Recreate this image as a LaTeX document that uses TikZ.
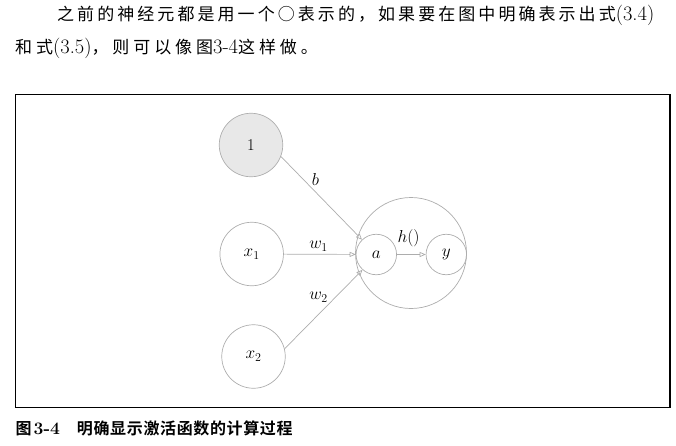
\documentclass[tikz,border=0pt]{standalone}
\usepackage{fontspec}
\newfontfamily\cjk[LetterSpace=18]{Noto Sans CJK SC}
\newfontfamily\cjkw[LetterSpace=23]{Noto Sans CJK SC}
\newfontfamily\cjkb[LetterSpace=4]{Noto Sans CJK SC Bold}
\usetikzlibrary{arrows.meta}
\definecolor{edge}{gray}{0.68}
\definecolor{biasfill}{gray}{0.91}
\newcommand{\lat}[1]{{\fontsize{20.5}{22}\selectfont #1}}
\tikzset{
  neuron/.style={circle, draw=edge, line width=0.7pt, minimum size=63.5pt, inner sep=0pt, font=\fontsize{16.5}{18}\selectfont},
  small/.style={circle, draw=edge, line width=0.7pt, minimum size=40.5pt, inner sep=0pt, font=\fontsize{16.5}{18}\selectfont},
  conn/.style={draw=edge, line width=0.7pt, -{Triangle[open, length=6pt, width=5pt]}},
  lbl/.style={font=\fontsize{16.5}{18}\selectfont, inner sep=0pt},
  para/.style={anchor=base west, inner sep=0pt, font=\fontsize{17}{22}\selectfont},
}
\begin{document}
\begin{tikzpicture}[x=1pt,y=-1pt]
\useasboundingbox (0,0) rectangle (676,445);
% paragraph
\node[para] (l1) at (57,20) {{\cjk 之前的神经元都是用一个○表示的，如果要在图中明确表示出式}\lat{(3.4)}};
\node[para] (l2) at (15,53) {{\cjkw 和式}\lat{(3.5)}{\cjkw ，则可以像图}\lat{3-4}{\cjkw 这样做。}};
% frame
\draw[line width=1.1pt] (15.5,94.5) rectangle (670,407.5);
% nodes
\node[neuron, fill=biasfill] (one) at (251,145) {1};
\node[neuron] (x1) at (251.7,254) {$x_1$};
\node[neuron] (x2) at (253.5,356.5) {$x_2$};
\node[circle, draw=edge, line width=0.7pt, minimum size=111pt, inner sep=0pt] (big) at (411,253) {};
\node[small] (a) at (376.3,254.5) {$a$};
\node[small] (y) at (446.3,254.5) {$y$};
% connectors
\draw[conn] (one.-21) -- (a.134);
\draw[conn] (x1) -- (a);
\draw[conn] (x2.14) -- (a.-132);
\draw[conn] (a) -- (y);
% labels
\node[lbl] (lb) at (315.5,179) {$b$};
\node[lbl] (lw1) at (318.5,246) {$w_1$};
\node[lbl] (lw2) at (318.5,297) {$w_2$};
\node[lbl] (lh) at (408.5,238) {$h()$};
% caption
\node[anchor=base west, inner sep=0pt, font=\fontsize{16}{18}\selectfont] (cap) at (15.5,434) {{\cjkb 图}\hspace{2pt}{\fontsize{17.5}{18}\selectfont\bfseries 3-4}\hspace{17pt}{\cjkb 明确显示激活函数的计算过程}};
\end{tikzpicture}
\end{document}
